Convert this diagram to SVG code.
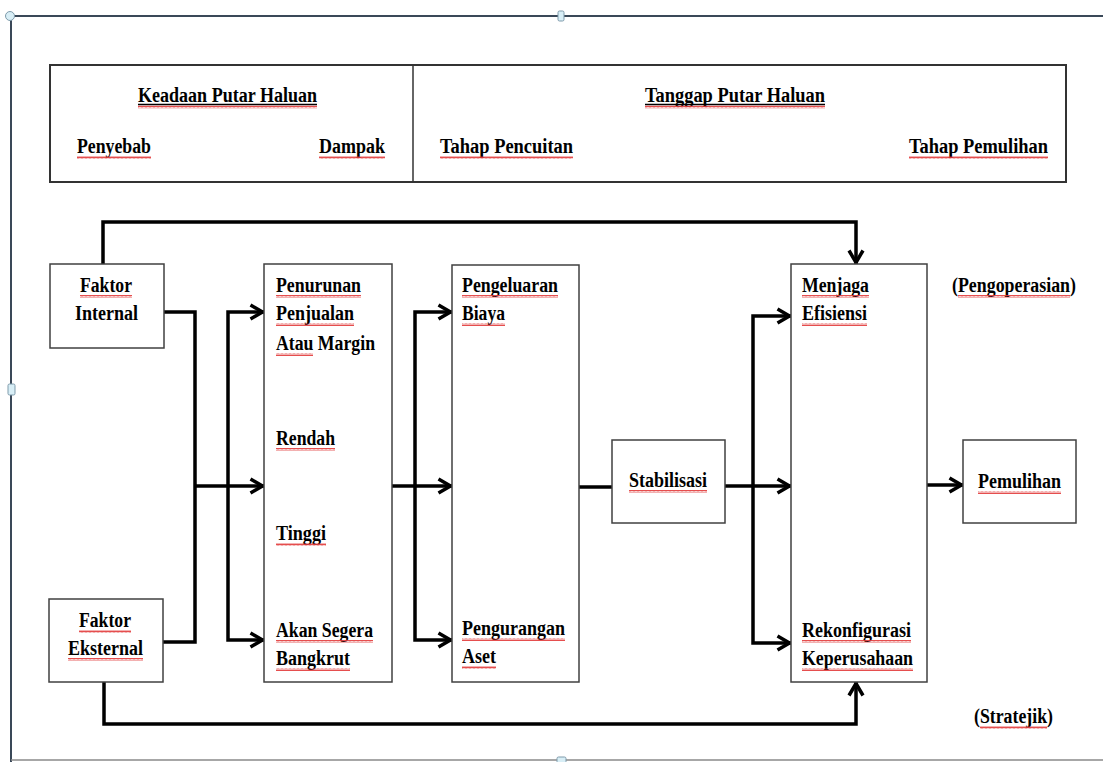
<svg xmlns="http://www.w3.org/2000/svg" width="1103" height="762" viewBox="0 0 1103 762">
<style>
.t{font-family:"Liberation Serif","Times New Roman",serif;font-weight:bold;font-size:20px;fill:#000}
.box{fill:#fff;stroke:#404040;stroke-width:1.5}
.hdr{fill:#fff;stroke:#333;stroke-width:2}
.c{fill:none;stroke:#000;stroke-width:3.5;stroke-linejoin:miter}
.ul{stroke:#000;stroke-width:1.5}
.sp{fill:url(#wave)}
.frame{stroke:#3a4858;stroke-width:2;fill:none}
.hd{fill:#d8eef6;stroke:#7f9bab;stroke-width:1}
</style>
<defs>
<pattern id="wave" width="4" height="3" patternUnits="userSpaceOnUse">
<path d="M0,2.5 L1,0.5 L2,2.5 L3,0.5 L4,2.5" fill="none" stroke="#e23a3a" stroke-width="0.9"/>
</pattern>
<marker id="ar" viewBox="-18 -10 22 20" markerWidth="22" markerHeight="20" refX="1.5" refY="0" orient="auto-start-reverse" markerUnits="userSpaceOnUse">
<path d="M-12,-7 L0,0 L-12,7" fill="none" stroke="#000" stroke-width="3.5"/>
</marker>
</defs>
<rect width="1103" height="762" fill="#fff"/>
<g id="frame">
<line x1="10" y1="16" x2="1103" y2="16" class="frame"/>
<line x1="11" y1="16" x2="11" y2="762" class="frame"/>
<line x1="11" y1="760" x2="1103" y2="760" stroke="#8a8a8a" stroke-width="1.5"/>
<circle cx="10" cy="16" r="4.5" class="hd"/>
<rect x="558" y="11" width="6" height="10" rx="1.5" class="hd"/>
<rect x="8" y="384" width="7" height="11" rx="1.5" class="hd"/>
<rect x="557" y="757" width="9" height="6" rx="1.5" class="hd"/>
</g>
<g id="header">
<rect x="50" y="65" width="1016" height="117" class="hdr"/>
<line x1="413" y1="65" x2="413" y2="182" stroke="#333" stroke-width="1.5"/>
<text class="t" x="138" y="102" textLength="179" lengthAdjust="spacingAndGlyphs">Keadaan Putar Haluan</text>
<line x1="138" y1="104.5" x2="317" y2="104.5" class="ul"/>
<rect x="138" y="105.5" width="179" height="3" class="sp"/>
<text class="t" x="77" y="153" textLength="74" lengthAdjust="spacingAndGlyphs">Penyebab</text>
<rect x="77" y="156" width="74" height="3" class="sp"/>
<text class="t" x="319" y="153" textLength="66" lengthAdjust="spacingAndGlyphs">Dampak</text>
<rect x="319" y="156" width="66" height="3" class="sp"/>
<text class="t" x="645" y="102" textLength="180" lengthAdjust="spacingAndGlyphs">Tanggap Putar Haluan</text>
<line x1="645" y1="104.5" x2="825" y2="104.5" class="ul"/>
<rect x="645" y="105.5" width="180" height="3" class="sp"/>
<text class="t" x="440" y="153" textLength="133" lengthAdjust="spacingAndGlyphs">Tahap Pencuitan</text>
<rect x="440" y="156" width="133" height="3" class="sp"/>
<text class="t" x="909" y="153" textLength="139" lengthAdjust="spacingAndGlyphs">Tahap Pemulihan</text>
<rect x="909" y="156" width="139" height="3" class="sp"/>
</g>
<g id="connectors">
<path d="M103,264 V222 H856 V264" class="c" marker-end="url(#ar)"/>
<path d="M104,682 V724 H856 V682" class="c" marker-end="url(#ar)"/>
<path d="M164,312 H195 V642 H163" class="c"/>
<path d="M195,486 H264" class="c" marker-end="url(#ar)"/>
<path d="M264,312 H228 V640 H264" class="c" marker-start="url(#ar)" marker-end="url(#ar)"/>
<path d="M392,486 H452" class="c" marker-end="url(#ar)"/>
<path d="M452,312 H415 V640 H452" class="c" marker-start="url(#ar)" marker-end="url(#ar)"/>
<path d="M579,487 H612" class="c"/>
<path d="M725,486 H791" class="c" marker-end="url(#ar)"/>
<path d="M791,316 H753 V643 H791" class="c" marker-start="url(#ar)" marker-end="url(#ar)"/>
<path d="M927,485 H963" class="c" marker-end="url(#ar)"/>
</g>
<g id="faktor-internal">
<rect x="50" y="264" width="114" height="84" class="box"/>
<text class="t" x="80" y="292" textLength="52" lengthAdjust="spacingAndGlyphs">Faktor</text>
<rect x="80" y="295" width="52" height="3" class="sp"/>
<text class="t" x="75" y="320" textLength="63" lengthAdjust="spacingAndGlyphs">Internal</text>
</g>
<g id="faktor-eksternal">
<rect x="49" y="599" width="114" height="83" class="box"/>
<text class="t" x="79" y="627" textLength="52" lengthAdjust="spacingAndGlyphs">Faktor</text>
<rect x="79" y="630" width="52" height="3" class="sp"/>
<text class="t" x="68" y="655" textLength="75" lengthAdjust="spacingAndGlyphs">Eksternal</text>
<rect x="68" y="658" width="75" height="3" class="sp"/>
</g>
<g id="dampak">
<rect x="264" y="264" width="128" height="418" class="box"/>
<text class="t" x="276" y="292" textLength="85" lengthAdjust="spacingAndGlyphs">Penurunan</text>
<rect x="276" y="295" width="85" height="3" class="sp"/>
<text class="t" x="276" y="320" textLength="78" lengthAdjust="spacingAndGlyphs">Penjualan</text>
<rect x="276" y="323" width="78" height="3" class="sp"/>
<text class="t" x="276" y="350" textLength="99" lengthAdjust="spacingAndGlyphs">Atau Margin</text>
<rect x="276" y="353" width="37" height="3" class="sp"/>
<text class="t" x="276" y="445" textLength="59" lengthAdjust="spacingAndGlyphs">Rendah</text>
<rect x="276" y="448" width="59" height="3" class="sp"/>
<text class="t" x="276" y="540" textLength="50" lengthAdjust="spacingAndGlyphs">Tinggi</text>
<rect x="276" y="543" width="50" height="3" class="sp"/>
<text class="t" x="276" y="637" textLength="97" lengthAdjust="spacingAndGlyphs">Akan Segera</text>
<rect x="276" y="640" width="97" height="3" class="sp"/>
<text class="t" x="276" y="665" textLength="74" lengthAdjust="spacingAndGlyphs">Bangkrut</text>
<rect x="276" y="668" width="74" height="3" class="sp"/>
</g>
<g id="pencuitan">
<rect x="452" y="265" width="127" height="417" class="box"/>
<text class="t" x="462" y="292" textLength="96" lengthAdjust="spacingAndGlyphs">Pengeluaran</text>
<rect x="462" y="295" width="96" height="3" class="sp"/>
<text class="t" x="462" y="320" textLength="43" lengthAdjust="spacingAndGlyphs">Biaya</text>
<rect x="462" y="323" width="43" height="3" class="sp"/>
<text class="t" x="462" y="635" textLength="103" lengthAdjust="spacingAndGlyphs">Pengurangan</text>
<rect x="462" y="638" width="103" height="3" class="sp"/>
<text class="t" x="462" y="663" textLength="34" lengthAdjust="spacingAndGlyphs">Aset</text>
<rect x="462" y="666" width="34" height="3" class="sp"/>
</g>
<g id="stabilisasi">
<rect x="612" y="440" width="113" height="83" class="box"/>
<text class="t" x="629" y="487" textLength="78" lengthAdjust="spacingAndGlyphs">Stabilisasi</text>
<rect x="629" y="490" width="78" height="3" class="sp"/>
</g>
<g id="pemulihan-tahap">
<rect x="791" y="264" width="136" height="418" class="box"/>
<text class="t" x="802" y="292" textLength="67" lengthAdjust="spacingAndGlyphs">Menjaga</text>
<rect x="802" y="295" width="67" height="3" class="sp"/>
<text class="t" x="802" y="320" textLength="65" lengthAdjust="spacingAndGlyphs">Efisiensi</text>
<rect x="802" y="323" width="65" height="3" class="sp"/>
<text class="t" x="802" y="637" textLength="109" lengthAdjust="spacingAndGlyphs">Rekonfigurasi</text>
<rect x="802" y="640" width="109" height="3" class="sp"/>
<text class="t" x="802" y="665" textLength="111" lengthAdjust="spacingAndGlyphs">Keperusahaan</text>
<rect x="802" y="668" width="111" height="3" class="sp"/>
</g>
<g id="pemulihan">
<rect x="963" y="440" width="113" height="83" class="box"/>
<text class="t" x="978" y="488" textLength="83" lengthAdjust="spacingAndGlyphs">Pemulihan</text>
<rect x="978" y="491" width="83" height="3" class="sp"/>
</g>
<g id="labels">
<text class="t" x="952" y="292" textLength="124" lengthAdjust="spacingAndGlyphs">(Pengoperasian)</text>
<rect x="958" y="295" width="112" height="3" class="sp"/>
<text class="t" x="974" y="723" textLength="79" lengthAdjust="spacingAndGlyphs">(Stratejik)</text>
<rect x="980" y="726" width="67" height="3" class="sp"/>
</g>
</svg>
